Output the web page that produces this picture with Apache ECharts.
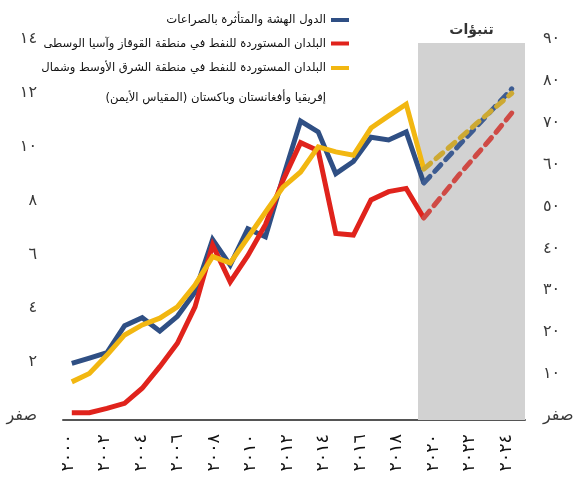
<!DOCTYPE html>
<html>
<head>
<meta charset="utf-8">
<script src="https://cdn.jsdelivr.net/npm/echarts@6/dist/echarts.min.js"></script>
<style>
html,body{margin:0;padding:0;background:#fff;}
#c{width:579px;height:489px;}
</style>
</head>
<body>
<div id="c"></div>
<script>
// ---- data ----
const years = [2000, 2001, 2002, 2003, 2004, 2005, 2006, 2007, 2008, 2009, 2010,
               2011, 2012, 2013, 2014, 2015, 2016, 2017, 2018, 2019, 2020];
const forecastYears = [2020, 2021, 2022, 2023, 2024, 2025];

const fragileVals = [2.1, 2.3, 2.5, 3.5, 3.8, 3.3, 3.85, 4.75, 6.7, 5.75, 7.1,
                     6.8, 9.0, 11.1, 10.7, 9.15, 9.6, 10.5, 10.4, 10.7, 8.8];
const fragileForecast = [8.8, 9.5, 10.2, 10.9, 11.6, 12.3];

const ccaVals = [0.27, 0.27, 0.43, 0.62, 1.18, 1.98, 2.85, 4.2, 6.5, 5.13, 6.1,
                 7.25, 8.9, 10.3, 10.0, 6.93, 6.87, 8.17, 8.48, 8.6, 7.5];
const ccaForecast = [7.5, 8.3, 9.1, 9.85, 10.6, 11.4];

const menapVals = [9.1, 11.1, 15.5, 20.3, 22.7, 24.3, 27.0, 32.2, 39.0, 37.5, 43.5,
                   49.6, 55.6, 59.2, 65.2, 64.0, 63.2, 69.7, 72.6, 75.4, 59.9];
const menapForecast = [59.9, 63.5, 67.1, 70.8, 74.4, 78.0];

const xTickLabels = ['٢٠٠٠', '٢٠٠٢', '٢٠٠٤', '٢٠٠٦', '٢٠٠٨', '٢٠١٠', '٢٠١٢',
                     '٢٠١٤', '٢٠١٦', '٢٠١٨', '٢٠٢٠', '٢٠٢٢', '٢٠٢٤'];
const leftTickLabels = ['صفر', '٢', '٤', '٦', '٨', '١٠', '١٢', '١٤'];
const rightTickLabels = ['صفر', '١٠', '٢٠', '٣٠', '٤٠', '٥٠', '٦٠', '٧٠', '٨٠', '٩٠'];

const nameFragile = 'الدول الهشة والمتأثرة بالصراعات';
const nameCCA = 'البلدان المستوردة للنفط في منطقة القوقاز وآسيا الوسطى';
const nameMENAP1 = 'البلدان المستوردة للنفط في منطقة الشرق الأوسط وشمال';
const nameMENAP2 = 'إفريقيا وأفغانستان وباكستان (المقياس الأيمن)';
const nameMENAP = nameMENAP1 + '\n' + nameMENAP2;
const forecastLabel = 'تنبؤات';
const shadeStart = 2019.67;
const shadeEnd = 2025.75;

// ---- chart ----
const RLM = '\u200F';
const FONT = 'DejaVu Sans';
const pairs = (xs, vs) => xs.map((x, i) => [x, vs[i]]);

const chart = echarts.init(document.getElementById('c'), null, {renderer: 'canvas'});

const solid = (name, color, data, yi, z) => ({
  name, type: 'line', xAxisIndex: 0, yAxisIndex: yi, data, symbol: 'none',
  z, lineStyle: {color, width: 5, cap: 'butt', join: 'miter'}, itemStyle: {color},
  animation: false
});
const dashed = (name, color, lc, data, yi, z) => ({
  name, type: 'line', xAxisIndex: 0, yAxisIndex: yi, data, symbol: 'none',
  z, lineStyle: {color: lc, width: 5, type: [9, 7], cap: 'round'}, itemStyle: {color},
  animation: false
});

const blueSeries = solid(nameFragile, '#2F4F84', pairs(years, fragileVals), 0, 3);
blueSeries.markArea = {
  silent: true,
  itemStyle: {color: '#D2D2D2'},
  label: {show: true, position: 'top', distance: 6, color: '#333', fontWeight: 'bold',
          fontSize: 14, fontFamily: FONT},
  data: [[{name: forecastLabel, xAxis: shadeStart}, {xAxis: shadeEnd}]]
};

const yLabelStyle = {fontSize: 16, color: '#3a3a3a', fontFamily: FONT,
                     verticalAlign: 'bottom', lineHeight: 8};

const option = {
  animation: false,
  backgroundColor: '#fff',
  textStyle: {fontFamily: FONT},
  grid: [
    {left: 63, right: 54, top: 43, bottom: 69, containLabel: false},
    {left: 68, right: 73, top: 43, bottom: 69, containLabel: false}
  ],
  xAxis: [
    {type: 'value', gridIndex: 0, min: 1999.5, max: 2025.75,
     axisLine: {show: true, lineStyle: {color: '#555', width: 2}},
     axisTick: {show: false}, axisLabel: {show: false}, splitLine: {show: false}},
    {type: 'category', gridIndex: 1, data: xTickLabels, boundaryGap: false,
     axisLine: {show: false}, axisTick: {show: false}, splitLine: {show: false},
     axisLabel: {show: true, interval: 0, rotate: 90, margin: 14, fontSize: 17.5,
                 color: '#111', fontFamily: FONT}}
  ],
  yAxis: [
    {type: 'value', gridIndex: 0, min: 0, max: 14, interval: 2,
     axisLine: {show: false}, axisTick: {show: false}, splitLine: {show: false},
     axisLabel: Object.assign({margin: 26,
                 formatter: v => leftTickLabels[Math.round(v / 2)]}, yLabelStyle)},
    {type: 'value', gridIndex: 0, min: 0, max: 90, interval: 10, position: 'right',
     axisLine: {show: false}, axisTick: {show: false}, splitLine: {show: false},
     axisLabel: Object.assign({margin: 18,
                 formatter: v => rightTickLabels[Math.round(v / 10)]}, yLabelStyle)},
    {type: 'value', gridIndex: 1, show: false}
  ],
  legend: [
    {data: [nameFragile, nameCCA], orient: 'vertical', align: 'right',
     right: 230, top: 12, padding: 0, itemGap: 7.5, itemWidth: 18, itemHeight: 4,
     icon: 'rect', selectedMode: false,
     formatter: n => n + RLM,
     textStyle: {fontSize: 11.6, lineHeight: 16, color: '#111', fontFamily: FONT}},
    {data: [nameMENAP], orient: 'vertical', align: 'right',
     right: 230, top: 23, padding: 0, itemWidth: 18, itemHeight: 4,
     icon: 'rect', selectedMode: false,
     formatter: n => ' \n' + nameMENAP1 + RLM + '\n' + nameMENAP2 + RLM,
     textStyle: {fontSize: 11.6, lineHeight: 30, color: '#111', fontFamily: FONT}}
  ],
  series: [
    blueSeries,
    solid(nameCCA, '#E0231C', pairs(years, ccaVals), 0, 4),
    solid(nameMENAP, '#F2B711', pairs(years, menapVals), 1, 5),
    dashed(nameFragile, '#2F4F84', '#3D5C92', pairs(forecastYears, fragileForecast), 0, 3),
    dashed(nameCCA, '#E0231C', '#CF4A45', pairs(forecastYears, ccaForecast), 0, 4),
    dashed(nameMENAP, '#F2B711', '#CDA933', pairs(forecastYears, menapForecast), 1, 5)
  ]
};
chart.setOption(option);
</script>
</body>
</html>
